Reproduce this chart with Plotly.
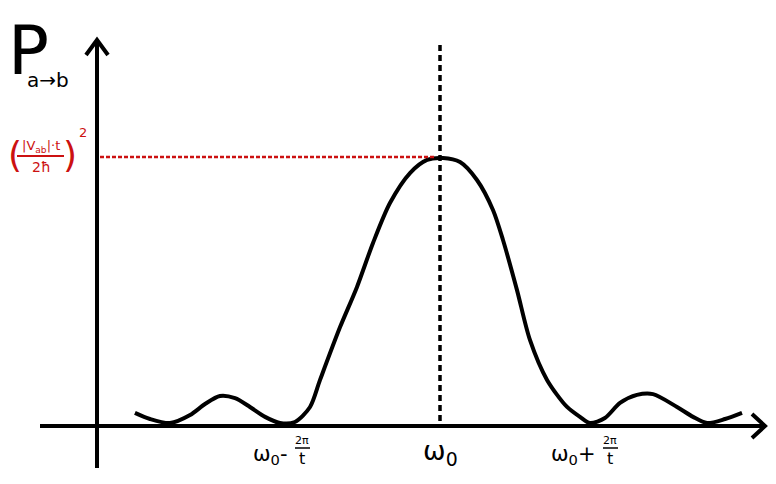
import plotly.graph_objects as go

# Curve (x in units of 2π/t from ω0, y relative to peak)
curve_x = [-1.955, -1.857, -1.727, -1.597, -1.500, -1.403, -1.305, -1.208, -1.110, -1.013,
           -0.916, -0.818, -0.753, -0.623, -0.513, -0.409, -0.299, -0.169, -0.058, 0.045,
           0.156, 0.266, 0.370, 0.435, 0.526, 0.610, 0.721, 0.851, 0.935, 1.000,
           1.097, 1.195, 1.305, 1.409, 1.565, 1.669, 1.760, 1.877, 1.987]
curve_y = [0.049, 0.026, 0.011, 0.041, 0.082, 0.112, 0.104, 0.071, 0.034, 0.011,
           0.015, 0.071, 0.172, 0.369, 0.519, 0.683, 0.832, 0.944, 0.993, 1.000,
           0.985, 0.918, 0.806, 0.694, 0.507, 0.321, 0.172, 0.071, 0.034, 0.011,
           0.030, 0.086, 0.116, 0.119, 0.071, 0.034, 0.011, 0.026, 0.049]

# tick positions and labels: (value, main text, fraction numerator, fraction denominator)
tick_vals = [-1.0, 0.026, 1.0]
tick_main = ["ω<sub>0</sub>-", "ω<sub>0</sub>", "ω<sub>0</sub>+"]
tick_num = ["2π", "", "2π"]
tick_den = ["t", "", "t"]
peak_x = 0.026
peak_y = 1.0

# page has an 8px body margin: figure sits at (8, 8)
OFF = 8
W, H = 776 - 2 * OFF, 484 - 2 * OFF
SX = 154.0   # px per data unit (x)
SY = 268.0   # px per data unit (y)
CX = 436 - OFF   # figure px of x=0
CY = 426 - OFF   # figure px of y=0
X0, X1 = -CX / SX, (W - CX) / SX
Y0, Y1 = -(H - CY) / SY, CY / SY


def px(P):
    return (P - OFF) / W


def py(P):
    return 1 - (P - OFF) / H


def dx(pixels):
    return pixels / SX


fig = go.Figure()
fig.add_trace(go.Scatter(x=curve_x, y=curve_y, mode="lines",
                         line=dict(color="black", width=4, shape="spline", smoothing=0.8),
                         hoverinfo="skip", showlegend=False))

shapes = []
ax_style = dict(color="black", width=4)
shapes.append(dict(type="line", xref="paper", yref="paper", x0=px(97), x1=px(97), y0=py(468), y1=py(40), line=ax_style))
shapes.append(dict(type="path", xref="paper", yref="paper",
                   path=f"M {px(86)} {py(55)} L {px(97)} {py(40)} L {px(108)} {py(55)}", line=ax_style))
shapes.append(dict(type="line", xref="paper", yref="paper", x0=px(40), x1=px(765), y0=py(426), y1=py(426), line=ax_style))
shapes.append(dict(type="path", xref="paper", yref="paper",
                   path=f"M {px(752)} {py(414)} L {px(765)} {py(426)} L {px(752)} {py(438)}", line=ax_style))
shapes.append(dict(type="line", xref="x", yref="paper", x0=peak_x, x1=peak_x, y0=py(45), y1=py(426),
                   line=dict(color="black", width=3.5, dash="6px,4px")))
red = "#cc1111"
shapes.append(dict(type="line", xref="paper", yref="paper", x0=px(100), x1=px(436), y0=py(157), y1=py(157),
                   line=dict(color=red, width=2.5, dash="4px,2px")))
shapes.append(dict(type="line", xref="paper", yref="paper", x0=px(17), x1=px(64), y0=py(156), y1=py(156),
                   line=dict(color=red, width=2)))

annotations = []
FONT = "DejaVu Sans"


def txt(x, y, text, size, color="black", xref="paper", xanchor="center"):
    xv = px(x) if xref == "paper" else x
    annotations.append(dict(x=xv, y=py(y), xref=xref, yref="paper", text=text, showarrow=False,
                            xanchor=xanchor, yanchor="middle",
                            font=dict(size=size, color=color, family=FONT)))


for v, m, n, d in zip(tick_vals, tick_main, tick_num, tick_den):
    if n:
        txt(v + dx(8), 455, m, 21, xref="x", xanchor="right")
        txt(v + dx(20), 440, n, 11, xref="x")
        shapes.append(dict(type="line", xref="x", yref="paper", x0=v + dx(13), x1=v + dx(28),
                           y0=py(448), y1=py(448), line=dict(color="black", width=1.5)))
        txt(v + dx(20), 458, d, 16, xref="x")
    else:
        txt(v, 452, m, 27, xref="x")

txt(28, 50, "P", 68)
txt(48, 80, "a→b", 20)
txt(6, 154, "(", 36, red, xanchor="left")
txt(41, 146, "|V<sub>ab</sub>|·t", 13, red)
txt(41, 167, "2ħ", 14, red)
txt(70, 154, ")", 36, red)
txt(83, 133, "2", 13, red)

fig.update_layout(
    width=W, height=H, margin=dict(l=0, r=0, t=0, b=0),
    paper_bgcolor="white", plot_bgcolor="white",
    xaxis=dict(range=[X0, X1], visible=False, fixedrange=True),
    yaxis=dict(range=[Y0, Y1], visible=False, fixedrange=True),
    shapes=shapes, annotations=annotations, showlegend=False,
)
fig.write_html("out.html")
